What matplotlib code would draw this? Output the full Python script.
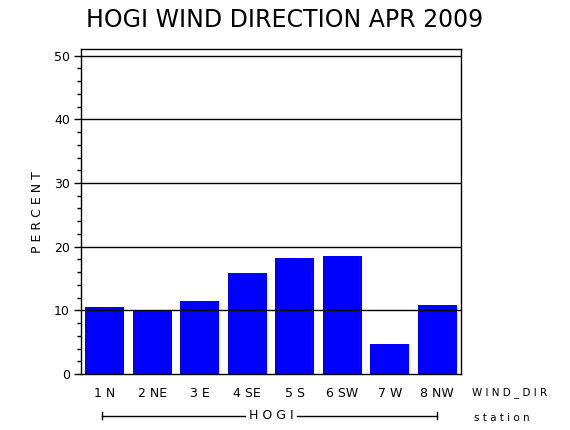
import matplotlib
matplotlib.use("Agg")
import matplotlib.pyplot as plt
import matplotlib.transforms as mtransforms
from matplotlib.ticker import MultipleLocator

categories = ["1 N", "2 NE", "3 E", "4 SE", "5 S", "6 SW", "7 W", "8 NW"]
percent = [10.5, 10.0, 11.4, 15.8, 18.3, 18.6, 4.7, 10.8]
yticks = [0, 10, 20, 30, 40, 50]
station = "HOGI"

fig = plt.figure(figsize=(5.7, 4.3), dpi=100)
ax = fig.add_axes([0.1421, 0.1302, 0.6667, 0.7551])

x = list(range(len(categories)))
ax.bar(x, percent, width=0.82, color="#0000FF", zorder=1)
for v in yticks[1:]:
    ax.axhline(v, color="black", linewidth=1.0, zorder=2)

ax.set_xlim(-0.5, len(categories) - 0.5)
ax.set_ylim(0, 51)
ax.set_yticks(yticks)
ax.yaxis.set_minor_locator(MultipleLocator(2))
ax.set_xticks(x)
ax.set_xticklabels(categories, fontsize=9)
ax.tick_params(axis="x", length=0, pad=9)
ax.tick_params(axis="y", which="major", length=5, width=1, labelsize=9, pad=3, direction="out")
ax.tick_params(axis="y", which="minor", length=3, width=1, direction="out")
for s in ax.spines.values():
    s.set_linewidth(1.0)

ax.set_ylabel("P E R C E N T", fontsize=9, labelpad=7)

fig.text(0.5, 0.953, "HOGI WIND DIRECTION APR 2009", ha="center", va="center", fontsize=17)
fig.text(0.828, 0.088, "W I N D _ D I R", ha="left", va="center", fontsize=7.5)
fig.text(0.832, 0.028, "s t a t i o n", ha="left", va="center", fontsize=7.5)

# station bracket
trans = mtransforms.blended_transform_factory(ax.transData, ax.transAxes)
yb = -0.128
mid = (len(categories) - 1) / 2
ax.plot([-0.05, mid - 0.55], [yb, yb], color="black", lw=1, transform=trans, clip_on=False)
ax.plot([mid + 0.55, len(categories) - 1], [yb, yb], color="black", lw=1, transform=trans, clip_on=False)
ax.plot([-0.05, -0.05], [yb - 0.012, yb + 0.012], color="black", lw=1, transform=trans, clip_on=False)
ax.plot([len(categories) - 1] * 2, [yb - 0.012, yb + 0.012], color="black", lw=1, transform=trans, clip_on=False)
ax.text(mid, yb, "H O G I", ha="center", va="center", fontsize=9, transform=trans)

fig.savefig("out.png", dpi=100)
